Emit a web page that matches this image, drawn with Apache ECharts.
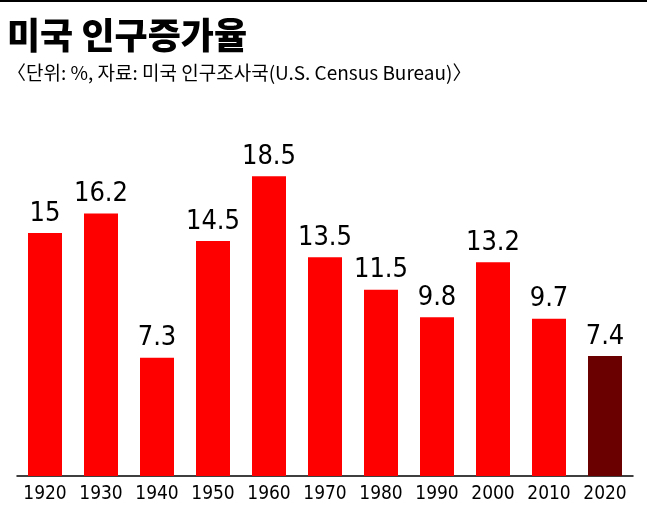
<!DOCTYPE html>
<html>
<head>
<meta charset="utf-8">
<script src="https://cdn.jsdelivr.net/npm/echarts@6/dist/echarts.min.js"></script>
<style>body{margin:0}#main{width:647px;height:512px}</style>
</head>
<body>
<div id="main"></div>
<script>
var years = ['1920','1930','1940','1950','1960','1970','1980','1990','2000','2010','2020'];
var rates = [15, 16.2, 7.3, 14.5, 18.5, 13.5, 11.5, 9.8, 13.2, 9.7, 7.4];
var labels = ['15','16.2','7.3','14.5','18.5','13.5','11.5','9.8','13.2','9.7','7.4'];

var narrow = '"Liberation Sans Narrow", "DejaVu Sans Condensed", "Roboto", sans-serif';
var chart = echarts.init(document.getElementById('main'));
chart.setOption({
  animation: false,
  backgroundColor: '#fff',
  title: {
    text: '미국 인구증가율',
    subtext: '〈단위: %, 자료: 미국 인구조사국(U.S. Census Bureau)〉',
    left: 2, top: 12, itemGap: 10,
    textStyle: {fontFamily: 'Noto Sans CJK KR', fontWeight: 900, fontSize: 36, color: '#000', letterSpacing: -1},
    subtextStyle: {fontFamily: 'Noto Sans CJK KR', fontSize: 19, color: '#000', letterSpacing: -1.5}
  },
  graphic: [{type: 'rect', shape: {x: 0, y: 0, width: 647, height: 2}, style: {fill: '#000'}}],
  grid: {left: 17, right: 14, top: 71, bottom: 36},
  xAxis: {
    type: 'category', data: years,
    axisLine: {lineStyle: {color: '#000', width: 1.5}},
    axisTick: {show: false},
    axisLabel: {interval: 0, color: '#000', fontSize: 19, fontFamily: narrow, letterSpacing: -1.5, margin: 9}
  },
  yAxis: {type: 'value', min: 0, max: 25, show: false},
  series: [{
    type: 'bar', barWidth: 34,
    data: rates.map(function (v, i) {
      return {value: v, itemStyle: {color: i === rates.length - 1 ? '#6b0000' : '#ff0000'}};
    }),
    label: {
      show: true, position: 'top', distance: 6,
      formatter: function (p) { return labels[p.dataIndex]; },
      color: '#000', fontSize: 27, fontFamily: narrow, letterSpacing: -2
    }
  }]
});
</script>
</body>
</html>
